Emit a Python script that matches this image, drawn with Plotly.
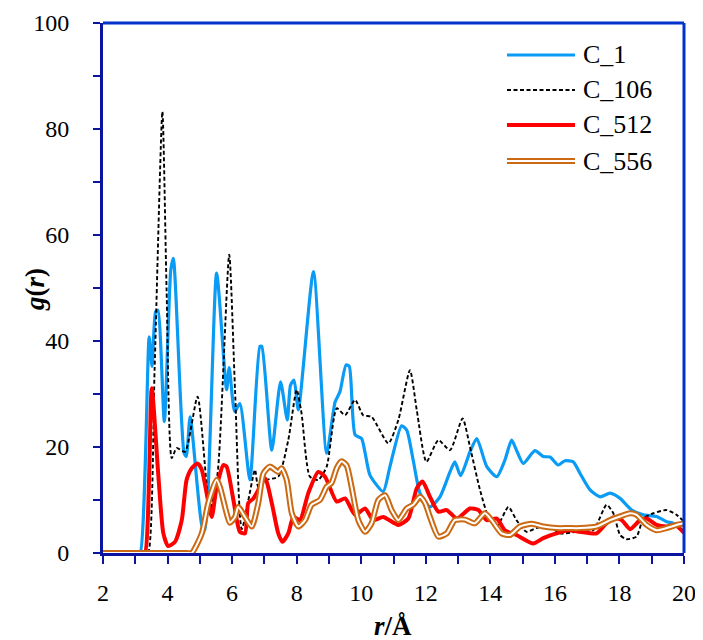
import plotly.graph_objects as go

# ---------------- data ----------------
series_names = ["C_1", "C_106", "C_512", "C_556"]

r_c1 = [2.0, 2.8, 3.05, 3.15, 3.43, 3.52, 3.63, 3.70, 3.90, 4.10, 4.18, 4.51, 4.58, 4.70, 5.06, 5.16,
        5.52, 5.83, 5.91, 6.08, 6.24, 6.55, 6.86, 6.92, 7.23, 7.50, 7.71, 7.81, 7.92, 8.05,
        8.52, 8.93, 9.19, 9.34, 9.53, 9.63, 9.81, 10.01, 10.12, 10.27, 10.68, 10.89, 11.25,
        11.41, 11.61, 11.82, 12.13, 12.44, 12.75, 12.90, 13.08, 13.37, 13.58, 13.89, 14.20,
        14.45, 14.66, 14.81, 15.02, 15.38, 15.64, 15.85, 16.10, 16.31, 16.57, 16.78, 17.09,
        17.40, 17.71, 18.02, 18.38, 18.74, 19.15, 19.46, 19.67, 20.0]
g_c1 = [0, 0, 0, 0, 40.8, 35.2, 45.5, 45.8, 24.8, 53.4, 55.6, 18.9, 18.2, 25.7, 5.3, 4.3,
        52.8, 30.8, 35.0, 26.7, 28.2, 13.8, 39.0, 39.0, 19.4, 32.3, 25.1, 31.7, 32.6, 27.0,
        53.1, 18.8, 28.5, 30.4, 35.5, 35.2, 22.3, 21.6, 18.9, 14.7, 11.6, 16.3, 24.0,
        23.2, 17.5, 11.3, 8.7, 10.6, 15.3, 17.2, 14.6, 19.1, 21.6, 16.3, 14.4,
        17.5, 21.3, 19.4, 16.9, 19.3, 18.2, 18.1, 16.6, 17.4, 17.2, 15.0, 11.9,
        10.6, 11.3, 10.3, 8.1, 7.2, 6.9, 5.9, 5.6, 4.0]

r_c106 = [2.0, 3.0, 3.3, 3.40, 3.60, 3.84, 3.97, 4.13, 4.28, 4.54, 4.93, 5.31, 5.55, 5.91, 6.09, 6.30,
          6.71, 6.81, 7.07, 7.43, 7.74, 8.00, 8.15, 8.41, 8.67, 8.93, 9.24, 9.50, 9.81, 10.06,
          10.32, 10.84, 11.15, 11.51, 11.72, 12.02, 12.39, 12.75, 13.14, 13.37, 13.68, 13.94,
          14.20, 14.56, 14.81, 15.12, 15.43, 15.85, 16.16, 16.67, 17.19, 17.60, 17.81, 18.02,
          18.22, 18.53, 18.74, 19.05, 19.46, 19.77, 20.0]
g_c106 = [0, 0, 0, 0, 35.0, 83.3, 49.6, 17.9, 19.8, 19.1, 29.5, 8.2, 15.0, 56.3, 30.8, 4.5,
          15.7, 12.5, 13.8, 14.4, 21.3, 30.8, 26.4, 14.4, 13.8, 16.3, 27.3, 26.0, 28.9, 26.0,
          25.7, 20.7, 25.1, 34.5, 27.0, 17.2, 21.3, 19.4, 25.4, 20.0, 11.9, 6.8,
          5.0, 8.7, 6.2, 4.0, 4.7, 5.0, 3.7, 4.0, 4.3, 9.1, 7.5, 3.4,
          2.6, 3.1, 6.5, 7.5, 8.1, 7.2, 5.9]

r_c512 = [2.0, 2.9, 3.2, 3.30, 3.51, 3.71, 3.87, 4.02, 4.23, 4.44, 4.59, 4.75, 4.93, 5.06, 5.21, 5.37,
          5.52, 5.73, 5.83, 6.04, 6.24, 6.40, 6.50, 6.66, 6.76, 7.02, 7.23, 7.43, 7.56, 7.74,
          7.90, 8.10, 8.36, 8.67, 8.88, 9.24, 9.50, 9.81, 10.12, 10.37, 10.68, 11.15, 11.46,
          11.72, 11.90, 12.13, 12.39, 12.65, 12.96, 13.37, 13.63, 13.89, 14.20, 14.45, 14.81,
          15.33, 15.64, 16.05, 16.41, 16.78, 17.29, 17.55, 17.81, 18.07, 18.33, 18.64, 18.84,
          19.15, 19.46, 19.72, 20.0]
g_c512 = [0, 0, 0, 0, 31.1, 15.0, 3.7, 1.3, 2.1, 6.2, 13.8, 16.0, 16.9, 15.7, 11.3, 6.8,
          12.5, 16.6, 16.3, 10.0, 4.0, 3.7, 9.4, 10.3, 11.3, 14.1, 9.4, 3.7, 2.1, 3.7,
          6.8, 6.2, 11.3, 15.3, 14.4, 9.7, 10.3, 7.2, 8.4, 6.2, 6.8, 5.3, 6.5,
          12.2, 13.5, 10.6, 7.8, 8.1, 6.5, 8.4, 8.1, 6.2, 6.5, 4.3, 3.4,
          1.8, 2.8, 3.7, 4.3, 4.0, 3.7, 5.3, 6.7, 6.2, 4.5, 6.2, 6.5,
          5.3, 5.0, 5.3, 3.8]

r_c556 = [2.0, 4.2, 4.6, 4.75, 5.06, 5.26, 5.52, 5.62, 5.83, 5.93, 6.09, 6.19, 6.40, 6.61, 6.81, 6.97,
          7.17, 7.43, 7.53, 7.69, 7.85, 8.05, 8.26, 8.46, 8.72, 8.93, 9.08, 9.24, 9.39, 9.55,
          9.70, 9.91, 10.12, 10.32, 10.53, 10.74, 10.94, 11.15, 11.41, 11.61, 11.82, 11.98,
          12.13, 12.39, 12.65, 12.90, 13.21, 13.52, 13.83, 14.04, 14.35, 14.61, 14.92, 15.28,
          15.64, 16.05, 16.41, 16.78, 17.29, 17.71, 18.02, 18.33, 18.53, 18.84, 19.15, 19.46,
          19.77, 20.0]
g_c556 = [0, 0, 0, 0, 3.7, 9.4, 13.8, 12.5, 7.5, 5.7, 6.8, 8.7, 6.8, 5.0, 9.4, 15.0,
          16.3, 15.3, 16.0, 13.8, 7.5, 5.0, 6.2, 9.1, 10.0, 12.5, 13.2, 16.0, 17.3, 16.5,
          12.5, 6.2, 4.0, 5.6, 10.0, 10.9, 8.1, 6.2, 8.4, 9.1, 10.6, 9.4,
          6.8, 3.1, 3.7, 6.2, 6.3, 5.6, 7.5, 6.2, 3.7, 3.4, 5.0, 5.5,
          5.0, 4.7, 4.7, 4.7, 5.0, 6.2, 6.9, 7.5, 7.2, 5.3, 4.3, 4.7,
          5.3, 5.6]

x_tick_vals = [2, 4, 6, 8, 10, 12, 14, 16, 18, 20]
y_tick_vals = [0, 20, 40, 60, 80, 100]

for a, b in [(r_c1, g_c1), (r_c106, g_c106), (r_c512, g_c512), (r_c556, g_c556)]:
    assert len(a) == len(b)

# ---------------- styling ----------------
BLUE = "#0A9BF5"
RED = "#FF0000"
BROWN = "#CC6A14"
NAVY = "#0A14A0"
FRAME = "#0033CC"
FONT = "Times New Roman, Liberation Serif, serif"
SMOOTH = 0.6
DASH = "4px,2.5px"

fig = go.Figure()
fig.add_trace(go.Scatter(x=r_c1, y=g_c1, mode="lines", name=series_names[0],
                         line=dict(color=BLUE, width=3.2, shape="spline", smoothing=SMOOTH)))
fig.add_trace(go.Scatter(x=r_c106, y=g_c106, mode="lines", name=series_names[1],
                         line=dict(color="black", width=1.9, dash=DASH,
                                   shape="spline", smoothing=SMOOTH)))
fig.add_trace(go.Scatter(x=r_c512, y=g_c512, mode="lines", name=series_names[2],
                         line=dict(color=RED, width=4, shape="spline", smoothing=SMOOTH)))
fig.add_trace(go.Scatter(x=r_c556, y=g_c556, mode="lines", name=series_names[3],
                         line=dict(color=BROWN, width=6, shape="spline", smoothing=SMOOTH)))
fig.add_trace(go.Scatter(x=r_c556, y=g_c556, mode="lines", name=series_names[3],
                         showlegend=False, hoverinfo="skip",
                         line=dict(color="white", width=2, shape="spline", smoothing=SMOOTH)))

# The page has an 8px body margin, so figure pixel = page pixel - 8.
OFF = 8
PAGE_W, PAGE_H = 703, 640
W, H = PAGE_W - OFF, PAGE_H - OFF
# plot area in page pixels: x 103..684, y 23..553
L, R, T, B = 103 - OFF, 684 - OFF, 23 - OFF, 553 - OFF


def px(xpage):
    return (xpage - OFF - L) / (R - L)


def py(ypage):
    return (B - (ypage - OFF)) / (B - T)


shapes = [
    dict(type="line", xref="paper", yref="paper", x0=0, x1=1, y0=1, y1=1,
         line=dict(color=FRAME, width=3), layer="above"),
    dict(type="line", xref="paper", yref="paper", x0=1, x1=1, y0=0, y1=1,
         line=dict(color=FRAME, width=3), layer="above"),
]

# custom legend (swatches + labels)
leg_rows = [55, 90, 125, 161]
lx0, lx1 = px(507), px(575)
swatch_styles = [
    [dict(color=BLUE, width=3.2)],
    [dict(color="black", width=1.9, dash=DASH)],
    [dict(color=RED, width=4)],
    [dict(color=BROWN, width=6), dict(color="white", width=2)],
]
annotations = []
for name, row, styles in zip(series_names, leg_rows, swatch_styles):
    for st in styles:
        shapes.append(dict(type="line", xref="paper", yref="paper", x0=lx0, x1=lx1,
                           y0=py(row), y1=py(row), line=st, layer="above"))
    annotations.append(dict(text=name, xref="paper", yref="paper", x=px(581), y=py(row),
                            xanchor="left", yanchor="middle", showarrow=False,
                            font=dict(family=FONT, size=26, color="black")))

annotations.append(dict(text="<b><i>g</i>(<i>r</i>)</b>", xref="paper", yref="paper",
                        x=px(35), y=py(290), textangle=-90, showarrow=False,
                        xanchor="center", yanchor="middle",
                        font=dict(family=FONT, size=27, color="black")))
annotations.append(dict(text="<b><i>r</i>/Å</b>", xref="paper", yref="paper",
                        x=px(393), y=py(626), showarrow=False,
                        xanchor="center", yanchor="middle",
                        font=dict(family=FONT, size=27, color="black")))

fig.update_layout(
    width=W, height=H,
    margin=dict(l=L, r=W - R, t=T, b=H - B, autoexpand=False),
    paper_bgcolor="white", plot_bgcolor="white",
    showlegend=False,
    shapes=shapes, annotations=annotations,
    font=dict(family=FONT, size=24, color="black"),
)
fig.update_xaxes(range=[2, 20], tickvals=x_tick_vals, ticks="outside", ticklen=8,
                 tickwidth=2, tickcolor=NAVY, showline=True, linecolor=NAVY, linewidth=3,
                 showgrid=False, zeroline=False, ticklabelstandoff=8,
                 minor=dict(dtick=1, tick0=2, ticks="outside", ticklen=8, tickwidth=2,
                            tickcolor=NAVY, showgrid=False),
                 tickfont=dict(family=FONT, size=24, color="black"))
fig.update_yaxes(range=[0, 100], tickvals=y_tick_vals, ticks="outside", ticklen=7,
                 tickwidth=2, tickcolor=NAVY, showline=True, linecolor=NAVY, linewidth=3,
                 showgrid=False, zeroline=False, ticklabelstandoff=19,
                 minor=dict(dtick=10, tick0=0, ticks="outside", ticklen=7, tickwidth=2,
                            tickcolor=NAVY, showgrid=False),
                 tickfont=dict(family=FONT, size=24, color="black"))

fig.write_html("out.html")
